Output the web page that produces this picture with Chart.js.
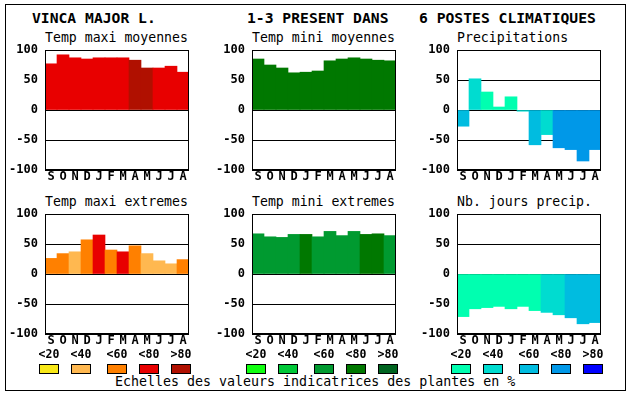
<!DOCTYPE html>
<html>
<head>
<meta charset="utf-8">
<script src="https://cdn.jsdelivr.net/npm/chart.js@4"></script>
<style>
  body { margin: 0; width: 630px; height: 394px; background: #fff; position: relative; overflow: hidden; font-family: 'DejaVu Sans Mono', monospace; color: #000; }
  .frame { position: absolute; left: 5px; top: 4px; width: 621px; height: 387px; border: 1px solid #000; box-sizing: border-box; }
  .t { position: absolute; white-space: pre; line-height: 16px; }
  .head { font-size: 14.7px; font-weight: bold; top: 10px; }
  .ptitle { font-size: 13.2px; }
  .foot { font-size: 13.3px; left: 115px; top: 374px; }
  canvas { position: absolute; }
  .lab { position: absolute; font-size: 11.5px; font-weight: bold; width: 24px; text-align: center; line-height: 14px; }
  .box { position: absolute; width: 20px; height: 10px; top: 364px; border: 1px solid #000; box-sizing: border-box; }
</style>
</head>
<body>
<div class="frame"></div>
<div class="t head" style="left:32px">VINCA MAJOR L.</div>
<div class="t head" style="left:247px">1-3 PRESENT DANS</div>
<div class="t head" style="left:419px">6 POSTES CLIMATIQUES</div>
<div class="t foot">Echelles des valeurs indicatrices des plantes en %</div>

<script>
const months = ['S', 'O', 'N', 'D', 'J', 'F', 'M', 'A', 'M', 'J', 'J', 'A'];
const classLabels = ['<20', '<40', '<60', '<80', '>80'];

// colour scales, one colour per class
const redScale = ['#F8E818', '#FFB850', '#FF8000', '#E80000', '#B01000'];
const greenScale = ['#10FF10', '#00C838', '#009A30', '#007800', '#006420'];
const blueScale = ['#00FFB0', '#00DCD0', '#00BCE0', '#0098E8', '#0000FF'];

// values per month and class index per month
const tmaxMoy = [77, 92, 87, 85, 87, 87, 87, 83, 70, 70, 73, 63];
const tmaxMoyClass = [3, 3, 3, 3, 3, 3, 3, 4, 4, 3, 3, 3];

const tminMoy = [85, 75, 70, 62, 63, 65, 82, 85, 87, 85, 83, 82];
const tminMoyClass = [3, 3, 3, 3, 3, 3, 3, 3, 3, 3, 3, 3];

const precip = [-27, 52, 30, 5, 22, -2, -58, -41, -63, -66, -85, -66];
const precipClass = [2, 1, 0, 0, 0, 1, 2, 1, 3, 3, 3, 3];

const tmaxExt = [26, 34, 37, 57, 65, 40, 37, 47, 34, 22, 17, 24];
const tmaxExtClass = [2, 2, 1, 2, 3, 2, 3, 2, 1, 1, 1, 2];

const tminExt = [67, 62, 61, 66, 66, 62, 71, 64, 71, 66, 67, 64];
const tminExtClass = [2, 2, 2, 2, 3, 2, 2, 2, 2, 3, 3, 2];

const joursPrecip = [-71, -58, -56, -54, -58, -54, -61, -64, -68, -73, -83, -81];
const joursPrecipClass = [0, 0, 0, 0, 0, 0, 0, 1, 1, 2, 2, 2];

const panels = [
  { title: 'Temp maxi moyennes', values: tmaxMoy, classes: tmaxMoyClass, scale: redScale, left: 45, top: 50 },
  { title: 'Temp mini moyennes', values: tminMoy, classes: tminMoyClass, scale: greenScale, left: 252, top: 50 },
  { title: 'Precipitations', values: precip, classes: precipClass, scale: blueScale, left: 457, top: 50 },
  { title: 'Temp maxi extremes', values: tmaxExt, classes: tmaxExtClass, scale: redScale, left: 45, top: 214 },
  { title: 'Temp mini extremes', values: tminExt, classes: tminExtClass, scale: greenScale, left: 252, top: 214 },
  { title: 'Nb. jours precip.', values: joursPrecip, classes: joursPrecipClass, scale: blueScale, left: 457, top: 214 }
];

Chart.defaults.font.family = "'DejaVu Sans Mono', monospace";
Chart.defaults.color = '#000';

// box around the plot area
const framePlugin = {
  id: 'frame',
  afterDraw(chart) {
    const a = chart.chartArea;
    const ctx = chart.ctx;
    ctx.save();
    ctx.strokeStyle = '#000';
    ctx.lineWidth = 1;
    ctx.strokeRect(Math.round(a.left) + 0.5, Math.round(a.top) + 0.5,
      Math.round(a.right - a.left) - 1, Math.round(a.bottom - a.top) - 1);
    ctx.restore();
  }
};

function addText(cls, text, left, top) {
  const d = document.createElement('div');
  d.className = cls;
  d.textContent = text;
  d.style.left = left + 'px';
  d.style.top = top + 'px';
  document.body.appendChild(d);
}

const PAD_TOP = 16;

panels.forEach(p => {
  addText('t ptitle', p.title, p.left, p.top - 20);

  const cv = document.createElement('canvas');
  cv.width = 195;
  cv.height = PAD_TOP + 120 + 20;
  cv.style.left = (p.left - 45) + 'px';
  cv.style.top = (p.top - PAD_TOP) + 'px';
  document.body.appendChild(cv);

  new Chart(cv, {
    type: 'bar',
    data: {
      labels: months,
      datasets: [{
        data: p.values,
        backgroundColor: p.classes.map(c => p.scale[c]),
        borderWidth: 0,
        barPercentage: 1,
        categoryPercentage: 1
      }]
    },
    options: {
      responsive: false,
      animation: false,
      devicePixelRatio: 1,
      layout: { padding: { left: 0, top: PAD_TOP, right: 6, bottom: 0 } },
      plugins: { legend: { display: false }, tooltip: { enabled: false } },
      scales: {
        x: {
          grid: { display: false, drawTicks: false },
          border: { display: false },
          ticks: { font: { size: 12, weight: 'bold' }, padding: 0, autoSkip: false, maxRotation: 0 },
          afterFit: s => { s.height = 20; }
        },
        y: {
          min: -100,
          max: 100,
          z: 1,
          grid: { color: '#000', drawTicks: false },
          border: { display: false },
          ticks: { stepSize: 50, font: { size: 12, weight: 'bold' }, padding: 7 },
          afterFit: s => { s.width = 45; }
        }
      }
    },
    plugins: [framePlugin]
  });
});

// class legends under the bottom row
const legendOffsets = [-6, 26, 62, 94, 126];
[[45, redScale], [252, greenScale], [457, blueScale]].forEach(([left, scale]) => {
  scale.forEach((col, i) => {
    const x = left + legendOffsets[i];
    addText('lab', classLabels[i], x - 2, 347);
    const b = document.createElement('div');
    b.className = 'box';
    b.style.left = x + 'px';
    b.style.background = col;
    document.body.appendChild(b);
  });
});
</script>
</body>
</html>
